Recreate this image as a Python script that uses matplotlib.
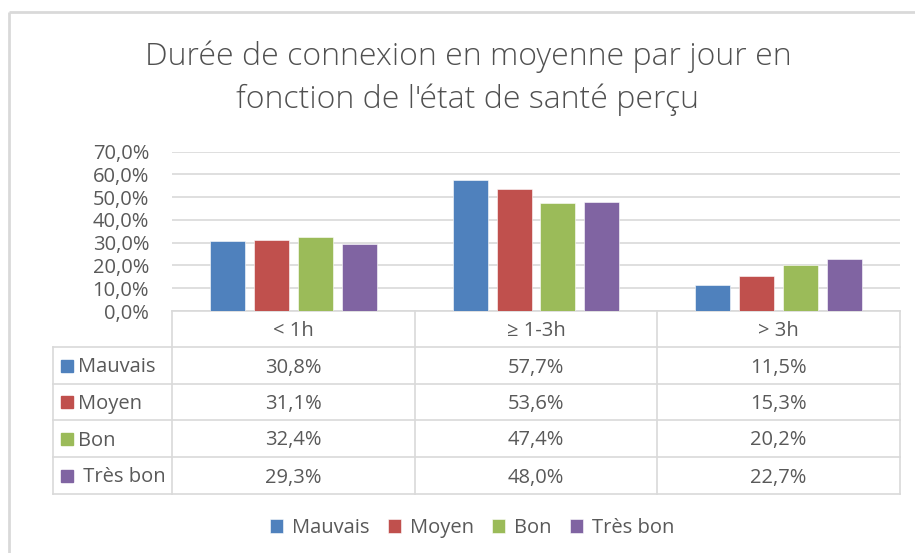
import matplotlib
matplotlib.use("Agg")
import matplotlib.pyplot as plt
from matplotlib.patches import Rectangle
import numpy as np

plt.rcParams['font.family'] = ['Open Sans', 'DejaVu Sans']

title = "Durée de connexion en moyenne par jour en\nfonction de l'état de santé perçu"
categories = ["< 1h", "≥ 1-3h", "> 3h"]
series_names = ["Mauvais", "Moyen", "Bon", "Très bon"]
mauvais = [30.8, 57.7, 11.5]
moyen = [31.1, 53.6, 15.3]
bon = [32.4, 47.4, 20.2]
tres_bon = [29.3, 48.0, 22.7]
series_values = [mauvais, moyen, bon, tres_bon]
colors = ["#4F81BD", "#C0504D", "#9BBB59", "#8064A2"]
yticks = [0, 10, 20, 30, 40, 50, 60, 70]

W, H = 915, 553
TXT = "#595959"
GRID = "#D9D9D9"
FS = 14.5
CAP = 7  # half cap height in px

fig = plt.figure(figsize=(W / 100, H / 100), dpi=100)
fig.patch.set_facecolor("white")

# overlay in pixel coordinates
ov = fig.add_axes([0, 0, 1, 1])
ov.set_xlim(0, W)
ov.set_ylim(H, 0)
ov.axis("off")
ov.patch.set_alpha(0)

# outer chart border
ov.plot([9, 9], [H + 5, 12], color=GRID, lw=2, solid_capstyle="butt")
ov.plot([9, W + 5], [12, 12], color=GRID, lw=2, solid_capstyle="butt")

# title
lines = title.split("\n")
ov.text(468, 57, lines[0], ha="center", va="center", fontsize=23,
        color="#505050", fontweight="light")
ov.text(468, 100, lines[1], ha="center", va="center", fontsize=23,
        color="#505050", fontweight="light")

# main plot axes
x0, x1 = 172, 900
y_top, y_bot = 151.7, 311
ax = fig.add_axes([x0 / W, (H - y_bot) / H, (x1 - x0) / W, (y_bot - y_top) / H])
ax.set_xlim(-0.5, 2.5)
ax.set_ylim(0, 70)
ax.set_yticks(yticks)
ax.set_yticklabels([f"{v:.1f}%".replace(".", ",") for v in yticks],
                   fontsize=FS, color=TXT)
ax.tick_params(axis="y", length=0, pad=16.5)
ax.set_xticks([])
for s in ax.spines.values():
    s.set_visible(False)
ax.grid(axis="y", color=GRID, lw=1.2)
ax.set_axisbelow(True)
ax.patch.set_alpha(0)

bw = 0.144
step = 0.181
x = np.arange(len(categories))
bars = []
for i, (name, vals, c) in enumerate(zip(series_names, series_values, colors)):
    b = ax.bar(x + (i - 1.5) * step, vals, width=bw, color=c, label=name,
               edgecolor="white", linewidth=0.4)
    bars.append(b)

# data table
col_edges = [172, 414.7, 657.3, 900]
row_edges = [311, 347, 384, 420, 457, 494]
left = 53
ov.plot([col_edges[0], col_edges[-1]], [row_edges[0], row_edges[0]], color=GRID, lw=1.2)
for y in row_edges[1:]:
    ov.plot([left, col_edges[-1]], [y, y], color=GRID, lw=1.2)
for xv in col_edges:
    ov.plot([xv, xv], [row_edges[0], row_edges[-1]], color=GRID, lw=1.2)
ov.plot([left, left], [row_edges[1], row_edges[-1]], color=GRID, lw=1.2)

for j, cat in enumerate(categories):
    cx = (col_edges[j] + col_edges[j + 1]) / 2
    ov.text(cx, (row_edges[0] + row_edges[1]) / 2 + CAP, cat, ha="center",
            va="baseline", fontsize=FS, color=TXT)
for i, (name, vals, c) in enumerate(zip(series_names, series_values, colors)):
    cy = (row_edges[i + 1] + row_edges[i + 2]) / 2
    ov.add_patch(Rectangle((61, cy - 6), 12, 12, color=c))
    label = name if name != "Très bon" else " " + name
    ov.text(78, cy + CAP, label, ha="left", va="baseline", fontsize=FS, color=TXT)
    for j, v in enumerate(vals):
        cx = (col_edges[j] + col_edges[j + 1]) / 2
        ov.text(cx, cy + CAP, f"{v:.1f}%".replace(".", ","), ha="center",
                va="baseline", fontsize=FS, color=TXT)

leg = fig.legend(handles=bars, labels=series_names, loc="center",
                 bbox_to_anchor=(472 / W, (H - 528) / H), ncol=4, frameon=False,
                 fontsize=FS, handlelength=0.65, handleheight=0.65,
                 handletextpad=0.45, columnspacing=0.9, labelcolor=TXT)

fig.savefig("out.png", dpi=100, facecolor="white")
